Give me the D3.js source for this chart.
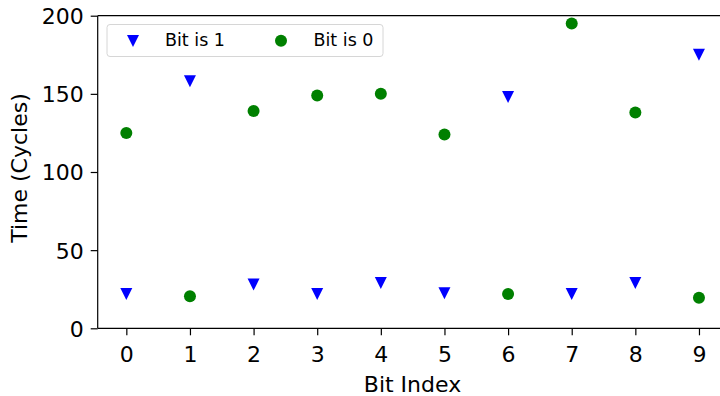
<!DOCTYPE html>
<html><head><meta charset="utf-8">
<script src="https://cdn.jsdelivr.net/npm/d3@7"></script>
<style>body{margin:0;background:#fff;}svg{display:block;font-family:"DejaVu Sans",sans-serif;}</style>
</head><body><svg id="c" width="720" height="396"></svg>
<script>
const bits = [0,1,2,3,4,5,6,7,8,9];
const bitIs1 = [22, 158, 28, 22, 29, 22.5, 148, 22, 29, 175];
const bitIs0 = [125, 20.5, 139, 149, 150, 124, 22, 195, 138, 19.6];
const yTicks = [0, 50, 100, 150, 200];
const seriesNames = ["Bit is 1", "Bit is 0"];

const svg = d3.select("#c");
const L = 97.7, R = 727.6, T = 15.7, B = 328.3;
const x = d3.scaleLinear().domain([-0.45, 9.45]).range([L, R]);
const y = d3.scaleLinear().domain([0, 200]).range([B, T]);

// axes
const xa = svg.append("g").attr("transform", `translate(0,${B})`)
  .call(d3.axisBottom(x).tickValues(bits).tickFormat(d3.format("d")).tickSizeOuter(0).tickSize(7));
xa.selectAll("text").attr("y", 33.4).attr("dy", 0);
const ya = svg.append("g").attr("transform", `translate(${L},0)`)
  .call(d3.axisLeft(y).tickValues(yTicks).tickSizeOuter(0).tickSize(7));
ya.selectAll("text").attr("x", -14).attr("dy", "0.36em");
[xa, ya].forEach(a => {
  a.select(".domain").remove();
  a.selectAll("line").attr("stroke", "#000").attr("stroke-width", 1.2);
  a.selectAll("text").attr("font-size", 22).attr("fill", "#000").attr("font-family", "DejaVu Sans");
});
// spines
svg.append("line").attr("x1", L).attr("x2", L).attr("y1", T).attr("y2", B).attr("stroke", "#000").attr("stroke-width", 1.2);
svg.append("line").attr("x1", L).attr("x2", R).attr("y1", B).attr("y2", B).attr("stroke", "#000").attr("stroke-width", 1.2);
svg.append("line").attr("x1", L).attr("x2", R).attr("y1", T).attr("y2", T).attr("stroke", "#000").attr("stroke-width", 1.2);

// labels
svg.append("text").attr("x", 412.5).attr("y", 392).attr("text-anchor", "middle")
  .attr("font-size", 22).text("Bit Index");
svg.append("text").attr("transform", `translate(27,168) rotate(-90)`).attr("text-anchor", "middle")
  .attr("font-size", 22).text("Time (Cycles)");

const tri = "M-6,-6L6,-6L0,6Z";
// markers
svg.append("g").selectAll("path").data(bits).join("path")
  .attr("d", tri)
  .attr("transform", d => `translate(${x(d)},${y(bitIs1[d])})`)
  .attr("fill", "#0000ff");
svg.append("g").selectAll("circle").data(bits).join("circle")
  .attr("cx", d => x(d)).attr("cy", d => y(bitIs0[d])).attr("r", 6).attr("fill", "#008000");

// legend
const lg = svg.append("g");
lg.append("rect").attr("x", 107).attr("y", 24.5).attr("width", 276).attr("height", 32).attr("rx", 3)
  .attr("fill", "#fff").attr("fill-opacity", 0.8).attr("stroke", "#d6d6d6").attr("stroke-width", 1);
lg.append("path").attr("d", tri).attr("transform", "translate(133,41)").attr("fill", "#0000ff");
lg.append("circle").attr("cx", 281).attr("cy", 40.7).attr("r", 6).attr("fill", "#008000");
lg.append("text").attr("x", 165).attr("y", 45.8).attr("font-size", 17.5).text(seriesNames[0]);
lg.append("text").attr("x", 313.5).attr("y", 45.8).attr("font-size", 17.5).text(seriesNames[1]);
</script></body></html>
